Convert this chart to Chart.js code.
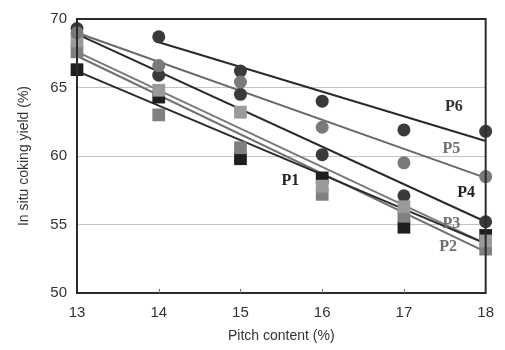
<!DOCTYPE html>
<html>
<head>
<meta charset="utf-8">
<script src="https://cdn.jsdelivr.net/npm/chart.js@4.4.0/dist/chart.umd.min.js"></script>
<style>
  html, body { margin: 0; padding: 0; background: #fff; }
  #wrap { width: 505px; height: 350px; }
</style>
</head>
<body>
<div id="wrap"><canvas id="yieldChart" width="505" height="350"></canvas></div>
<script>
// pitch content (%) on x
var pitch = [13, 14, 15, 16, 17, 18];

// measured in situ coking yield (%)
var p1 = [66.3, 64.3, 59.8, 58.4, 54.8, 54.2];
var p2 = [67.6, 63.0, 60.6, 57.2, 55.6, 53.2];
var p3 = [68.4, 64.8, 63.2, 57.8, 56.3, 53.8];
var p4 = [69.3, 65.9, 64.5, 60.1, 57.1, 55.2];
var p5 = [69.0, 66.6, 65.4, 62.1, 59.5, 58.5];
var p6 = [null, 68.7, 66.2, 64.0, 61.9, 61.8];

// fitted lines (start / end)
var fitX = [13, 18];
var fitX6 = [14, 18];
var fit1 = [66.2, 53.6];
var fit2 = [67.3, 53.0];
var fit3 = [67.6, 53.6];
var fit4 = [68.9, 55.2];
var fit5 = [69.0, 58.4];
var fit6 = [68.3, 61.1];

var yTicks = [50, 55, 60, 65, 70];

// series labels written inside the plot
var seriesNames = ["P1", "P2", "P3", "P4", "P5", "P6"];
var nameAt = [[15.61, 58.2], [17.54, 53.4], [17.58, 55.05], [17.76, 57.3], [17.58, 60.5], [17.61, 63.6]];
var nameColor = ["#222", "#6f6f6f", "#6f6f6f", "#222", "#6f6f6f", "#333"];

function pts(xs, ys) {
  return xs.map(function (x, i) { return { x: x, y: ys[i] }; }).filter(function (p) { return p.y !== null; });
}

function fitLine(xs, ys, color) {
  return {
    type: "line",
    data: pts(xs, ys),
    borderColor: color,
    borderWidth: 2,
    pointRadius: 0,
    fill: false,
    clip: false,
  };
}

function marks(ys, style, color, r) {
  return {
    type: "scatter",
    data: pts(pitch, ys),
    pointStyle: style,
    pointRadius: r,
    backgroundColor: color,
    borderColor: color,
    borderWidth: 0,
    clip: false,
  };
}

var frame = {
  id: "frame",
  afterDatasetsDraw: function (chart) {
    var a = chart.chartArea;
    var c = chart.ctx;
    c.save();
    c.strokeStyle = "#2b2b2b";
    c.lineWidth = 2;
    c.strokeRect(a.left, a.top, a.right - a.left, a.bottom - a.top);
    // small inner tick marks on the bottom axis
    var xs = chart.scales.x;
    c.lineWidth = 1;
    c.strokeStyle = "#777";
    [14, 15, 16, 17].forEach(function (v) {
      var px = Math.round(xs.getPixelForValue(v)) + 0.5;
      c.beginPath();
      c.moveTo(px, a.bottom);
      c.lineTo(px, a.bottom - 4);
      c.stroke();
    });
    // series names
    c.font = "bold 16px 'Liberation Serif'";
    c.textAlign = "center";
    c.textBaseline = "middle";
    seriesNames.forEach(function (n, i) {
      c.fillStyle = nameColor[i];
      c.fillText(n, xs.getPixelForValue(nameAt[i][0]), chart.scales.y.getPixelForValue(nameAt[i][1]));
    });
    c.restore();
  },
};

var ctx = document.getElementById("yieldChart").getContext("2d");

var chart = new Chart(ctx, {
  type: "scatter",
  data: {
    datasets: [
      marks(p5, "circle", "#7a7a7a", 6.5),
      marks(p3, "rect", "#9a9a9a", 9),
      marks(p2, "rect", "#808080", 9),
      marks(p1, "rect", "#1e1e1e", 9),
      marks(p6, "circle", "#3a3a3a", 6.5),
      marks(p4, "circle", "#3a3a3a", 6.5),
      fitLine(fitX, fit1, "#2a2a2a"),
      fitLine(fitX, fit2, "#707070"),
      fitLine(fitX, fit3, "#7a7a7a"),
      fitLine(fitX, fit4, "#2a2a2a"),
      fitLine(fitX, fit5, "#6a6a6a"),
      fitLine(fitX6, fit6, "#2a2a2a"),
    ],
  },
  options: {
    responsive: false,
    animation: false,
    layout: { padding: { left: 0, right: 15, top: 12, bottom: 0 } },
    plugins: {
      legend: { display: false },
      tooltip: { enabled: false },
    },
    scales: {
      x: {
        type: "linear",
        min: 13,
        max: 18,
        afterFit: function (s) { s.height = 57; },
        ticks: {
          stepSize: 1,
          padding: 11,
          color: "#333",
          font: { family: "'Liberation Sans'", size: 15 },
        },
        grid: { display: false, drawTicks: false },
        border: { display: false },
        title: {
          display: true,
          text: "Pitch content (%)",
          color: "#333",
          font: { family: "'Liberation Sans'", size: 14 },
          padding: { top: 0, bottom: 5 },
        },
      },
      y: {
        min: 50,
        max: 70,
        afterFit: function (s) { s.width = 77; },
        afterBuildTicks: function (s) {
          s.ticks = yTicks.map(function (v) { return { value: v }; });
        },
        ticks: {
          padding: 10,
          color: "#333",
          font: { family: "'Liberation Sans'", size: 15 },
        },
        grid: {
          color: function (c) { return c.tick.value === 50 || c.tick.value === 70 ? "rgba(0,0,0,0)" : "#c4c4c4"; },
          lineWidth: 1,
          drawTicks: false,
        },
        border: { display: false },
        title: {
          display: true,
          text: "In situ coking yield (%)",
          color: "#333",
          font: { family: "'Liberation Sans'", size: 14 },
          padding: { top: 16, bottom: 0 },
        },
      },
    },
  },
  plugins: [frame],
});
</script>
</body>
</html>
